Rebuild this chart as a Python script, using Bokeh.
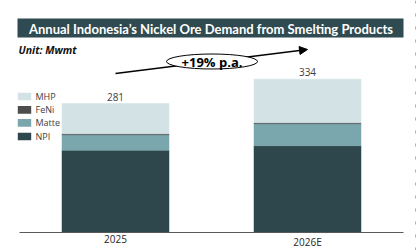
from bokeh.plotting import figure
from bokeh.models import Range1d, Label, Arrow, NormalHead, ColumnDataSource
from bokeh.core.properties import value
from bokeh.embed import file_html
from bokeh.resources import INLINE

# ---- data ----
categories = ["2025", "2026E"]
npi = [179, 189]
matte = [34, 48]
feni = [2, 2]
mhp = [66, 95]
totals = [281, 334]
stack_order = ["NPI", "Matte", "FeNi", "MHP"]
legend_order = ["MHP", "FeNi", "Matte", "NPI"]
growth_label = "+19% p.a."
title_text = "Annual Indonesia\u2019s Nickel Ore Demand from Smelting Products"
unit_text = "Unit: Mwmt"

colors = {"NPI": "#2e474d", "Matte": "#7aa7ad", "FeNi": "#4d4d4d", "MHP": "#d3e2e5"}

# ---- layout helpers (pixel -> data) ----
W, H = 417, 250
PX_PER_CAT = 192.0
PX_PER_UNIT = 0.459
X0_PX = 115.0
BASE_PX = 232.0


def dx(px):
    return (px - X0_PX) / PX_PER_CAT


def dy(py):
    return (BASE_PX - py) / PX_PER_UNIT


p = figure(width=W, height=H, x_range=Range1d(dx(0), dx(W)), y_range=Range1d(dy(H), dy(0)),
           output_backend="svg", toolbar_location=None, x_axis_location=None, y_axis_location=None,
           min_border=0, min_border_left=0, min_border_right=0, min_border_top=0, min_border_bottom=0)
p.outline_line_color = None
p.grid.visible = False
p.background_fill_color = "white"
p.border_fill_color = "white"

xs = list(range(len(categories)))
src = ColumnDataSource(dict(x=xs, cat=categories, NPI=npi, Matte=matte, FeNi=feni, MHP=mhp,
                            total=totals, total_label=[str(t) for t in totals]))

p.vbar_stack(stack_order, x="x", width=107 / PX_PER_CAT, source=src,
             fill_color=[colors[s] for s in stack_order],
             line_color=[colors[s] for s in stack_order], line_width=0.5)

# baseline (axis line)
p.segment(x0=[dx(19)], x1=[dx(403)], y0=[0], y1=[0], line_color="#595959", line_width=1)

# value labels
p.text(x="x", y="total", text="total_label", source=src, text_align="center", text_baseline="bottom",
       y_offset=-3, text_font=value("Open Sans"), text_font_size="10px", text_color="#404040")
# category labels
p.text(x="x", y=0, text="cat", source=src, text_align="center", text_baseline="top",
       y_offset=2, text_font=value("Open Sans"), text_font_size="10px", text_color="#262626")

# title box
p.rect(x=[dx((17 + 403) / 2)], y=[dy(27.5)], width=386 / PX_PER_CAT, height=19 / PX_PER_UNIT,
       fill_color="#2f4a50", line_color=None)
p.add_layout(Label(x=dx(210.5), y=dy(28), text=title_text, text_align="center", text_baseline="middle",
                   text_font="Lato", text_font_style="bold", text_font_size="13px", text_color="white"))
p.add_layout(Label(x=dx(18), y=dy(49), text=unit_text, text_align="left", text_baseline="middle",
                   text_font="Open Sans", text_font_style="bold italic", text_font_size="10.5px", text_color="#111111"))

# growth arrow
arrow = Arrow(x_start=dx(115), y_start=dy(73), x_end=dx(307), y_end=dy(49),
              end=NormalHead(size=8, fill_color="black", line_color="black"),
              line_color="black", line_width=1.5, level="underlay")
p.add_layout(arrow)
p.ellipse(x=[dx(211.5)], y=[dy(61)], width=91 / PX_PER_CAT, height=15 / PX_PER_UNIT,
          fill_color="white", line_color="black", line_width=1)
p.text(x=[dx(211.5)], y=[dy(61)], text=[growth_label], text_align="center", text_baseline="middle",
       text_font=value("Open Sans"), text_font_style="bold", text_font_size="13px", text_color="black")

# legend (manual)
leg_y = [96, 109.3, 122.3, 136]
for name, py in zip(legend_order, leg_y):
    p.rect(x=[dx(24)], y=[dy(py)], width=13.4 / PX_PER_CAT, height=7.7 / PX_PER_UNIT,
           fill_color=colors[name], line_color=None)
    p.text(x=[dx(35)], y=[dy(py)], text=[name], text_align="left", text_baseline="middle",
           text_font=value("Open Sans"), text_font_size="9px", text_color="#404040")

# slide edge dashes
p.segment(x0=[dx(415)], x1=[dx(415)], y0=[dy(0)], y1=[dy(250)], line_color="#b0b0b0",
          line_width=1, line_dash="3 10")

open("out.html", "w").write(file_html(p, INLINE))
